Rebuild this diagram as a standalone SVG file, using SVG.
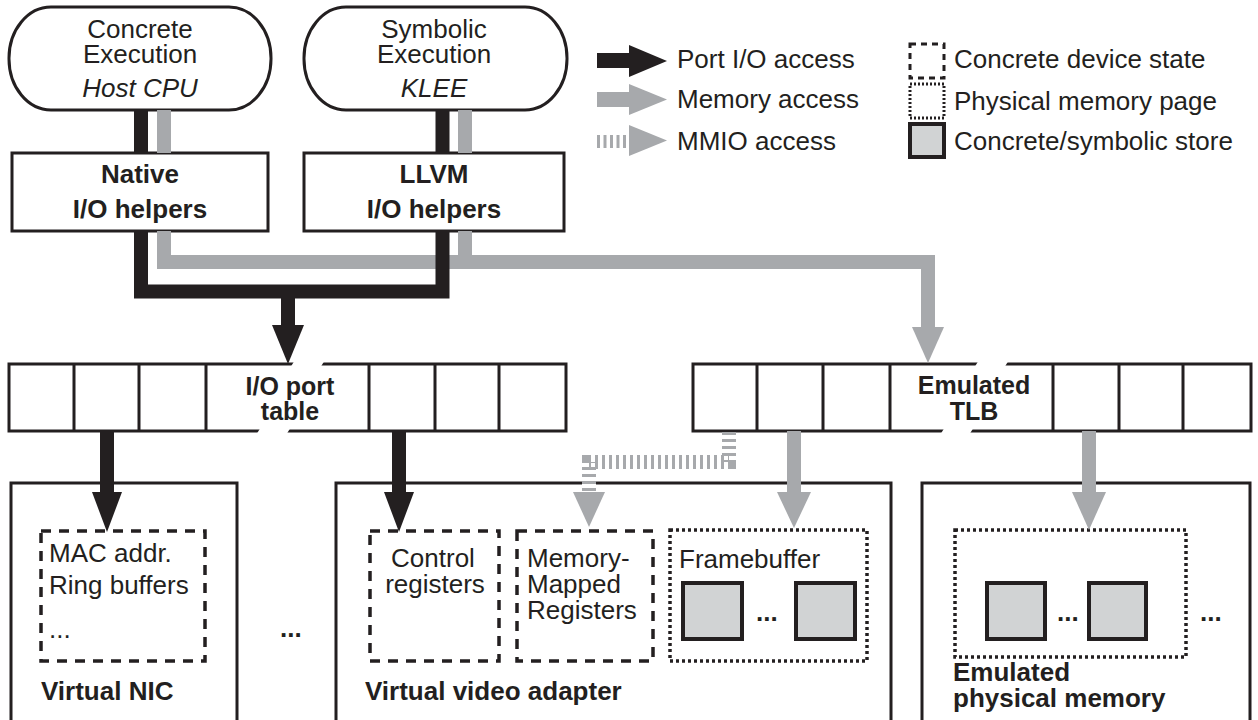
<svg xmlns="http://www.w3.org/2000/svg" width="1258" height="720" viewBox="0 0 1258 720">
<defs>
<style>
.t{font-family:'Liberation Sans',Arial,sans-serif;font-size:26px;fill:#231f20}
.b{font-weight:bold}
.i{font-style:italic}
.m{text-anchor:middle}
.s{font-size:25px}
.box{fill:#fff;stroke:#231f20;stroke-width:3}
.ln{fill:none;stroke:#231f20;stroke-width:3}
.dash{fill:none;stroke:#231f20;stroke-width:3.5;stroke-dasharray:10 8}
.dot{fill:none;stroke:#231f20;stroke-width:3.5;stroke-dasharray:3 3}
.store{fill:#d1d3d4;stroke:#231f20;stroke-width:4}
.blk{fill:none;stroke:#231f20;stroke-width:14}
.gry{fill:none;stroke:#a7a9ac;stroke-width:14}
.mmio{fill:none;stroke:#a7a9ac;stroke-width:14;stroke-dasharray:3 4}
.bh{fill:#231f20}
.gh{fill:#a7a9ac}
</style>
</defs>
<rect width="1258" height="720" fill="#fff"/>

<g id="concrete-exec">
<rect class="box" x="9" y="7" width="262" height="103" rx="42" ry="51"/>
<text class="t m" x="140" y="38">Concrete</text>
<text class="t m" x="140" y="63">Execution</text>
<text class="t m i" x="140" y="97">Host CPU</text>
</g>
<g id="symbolic-exec">
<rect class="box" x="304" y="7" width="263" height="103" rx="42" ry="51"/>
<text class="t m" x="434" y="38">Symbolic</text>
<text class="t m" x="434" y="63">Execution</text>
<text class="t m i" x="434" y="97">KLEE</text>
</g>
<g id="native-helpers">
<rect class="box" x="12" y="153" width="256" height="78"/>
<text class="t m b" x="140" y="183">Native</text>
<text class="t m b" x="140" y="218">I/O helpers</text>
</g>
<g id="llvm-helpers">
<rect class="box" x="304" y="153" width="260" height="78"/>
<text class="t m b" x="434" y="183">LLVM</text>
<text class="t m b" x="434" y="218">I/O helpers</text>
</g>

<g id="legend">
<rect class="bh" x="597" y="53" width="33" height="15"/>
<polygon class="bh" points="629,45 629,77 667,61"/>
<text class="t" x="677" y="68">Port I/O access</text>
<rect class="gh" x="597" y="92" width="33" height="15"/>
<polygon class="gh" points="629,84 629,115 667,99.5"/>
<text class="t" x="677" y="108">Memory access</text>
<path d="M597,141.5 H630" fill="none" stroke="#a7a9ac" stroke-width="13" stroke-dasharray="3 3.5"/>
<polygon class="gh" points="629,125 629,156 667,140.5"/>
<text class="t" x="677" y="150">MMIO access</text>
<rect class="dash" x="910" y="44" width="34" height="34" style="stroke-width:3;stroke-dasharray:6 5"/>
<rect class="dot" x="910" y="84" width="34" height="34" style="stroke-width:3;stroke-dasharray:2 2"/>
<rect class="store" x="910" y="124" width="34" height="33"/>
<text class="t" x="954" y="68">Concrete device state</text>
<text class="t" x="954" y="110">Physical memory page</text>
<text class="t" x="954" y="150">Concrete/symbolic store</text>
</g>

<g id="io-port-table">
<rect class="box" x="9" y="364" width="557" height="67"/>
<path class="ln" d="M74,364 V431 M139,364 V431 M206,364 V431 M369,364 V431 M435,364 V431 M499,364 V431"/>
<polygon fill="#fff" points="295,360 325,360 320,368 290,368"/>
<polygon fill="#fff" points="261,427 291,427 286,435 256,435"/>
<text class="t m b s" x="290" y="395">I/O port</text>
<text class="t m b s" x="290" y="420">table</text>
</g>

<g id="emulated-tlb">
<rect class="box" x="693" y="364" width="558" height="67"/>
<path class="ln" d="M757,364 V431 M823,364 V431 M890,364 V431 M1053,364 V431 M1119,364 V431 M1183,364 V431"/>
<polygon fill="#fff" points="979,360 1009,360 1004,368 974,368"/>
<polygon fill="#fff" points="945,427 974,427 969,435 940,435"/>
<text class="t m b s" x="974" y="394">Emulated</text>
<text class="t m b s" x="974" y="420">TLB</text>
</g>

<g id="virtual-nic">
<rect class="box" x="11" y="483" width="226" height="250"/>
<rect class="dash" x="41" y="531" width="164" height="130"/>
<text class="t" x="49" y="562">MAC addr.</text>
<text class="t" x="49" y="594">Ring buffers</text>
<text class="t" x="49" y="638">...</text>
<text class="t b" x="41" y="700">Virtual NIC</text>
</g>

<g id="more-devices">
<text class="t b" x="280" y="637">...</text>
</g>

<g id="virtual-video-adapter">
<rect class="box" x="336" y="483" width="555" height="250"/>
<rect class="dash" x="370" y="531" width="129" height="130"/>
<text class="t m" x="433" y="567">Control</text>
<text class="t m" x="435" y="593">registers</text>
<rect class="dash" x="517" y="531" width="136" height="130"/>
<text class="t" x="527" y="567">Memory-</text>
<text class="t" x="527" y="593">Mapped</text>
<text class="t" x="527" y="619">Registers</text>
<rect class="dot" x="670" y="530" width="197" height="131"/>
<text class="t" x="679" y="568">Framebuffer</text>
<rect class="store" x="683" y="583" width="59" height="56"/>
<text class="t b" x="756" y="621">...</text>
<rect class="store" x="796" y="583" width="59" height="56"/>
<text class="t b" x="365" y="700">Virtual video adapter</text>
</g>

<g id="emulated-physical-memory">
<rect class="box" x="922" y="483" width="328" height="250"/>
<rect class="dot" x="955" y="530" width="231" height="127"/>
<rect class="store" x="987" y="583" width="58" height="56"/>
<text class="t b" x="1057" y="621">...</text>
<rect class="store" x="1089" y="583" width="57" height="56"/>
<text class="t b" x="1200" y="621">...</text>
<text class="t b" x="953" y="681">Emulated</text>
<text class="t b" x="953" y="707">physical memory</text>
</g>

<g id="connectors">
<path class="gry" d="M164,110 V153 M465,110 V153 M465,231 V262"/>
<path class="gry" d="M164,231 V262 H928 V328"/>
<polygon class="gh" points="912,327 944,327 928,363"/>
<path class="blk" d="M141,110 V153 M442.5,110 V153"/>
<path class="blk" d="M141,231 V291.5 H442.5 V231"/>
<path class="blk" d="M288,298 V326"/>
<polygon class="bh" points="272,325 304,325 288,364"/>
<path class="blk" d="M107,431 V493"/>
<polygon class="bh" points="92,492 122,492 107,532"/>
<path class="blk" d="M399,431 V493"/>
<polygon class="bh" points="384,492 414,492 399,532"/>
<path class="gry" d="M794,431 V493"/>
<polygon class="gh" points="777,492 811,492 794,528"/>
<path class="gry" d="M1089,431 V493"/>
<polygon class="gh" points="1072,492 1106,492 1089,530"/>
<path d="M729,432 V462 H589 V493" fill="none" stroke="#fff" stroke-width="14"/>
<path class="mmio" d="M729,432 V462 H589 V493"/>
<polygon class="gh" points="573,492 605,492 589,527"/>
</g>
</svg>
